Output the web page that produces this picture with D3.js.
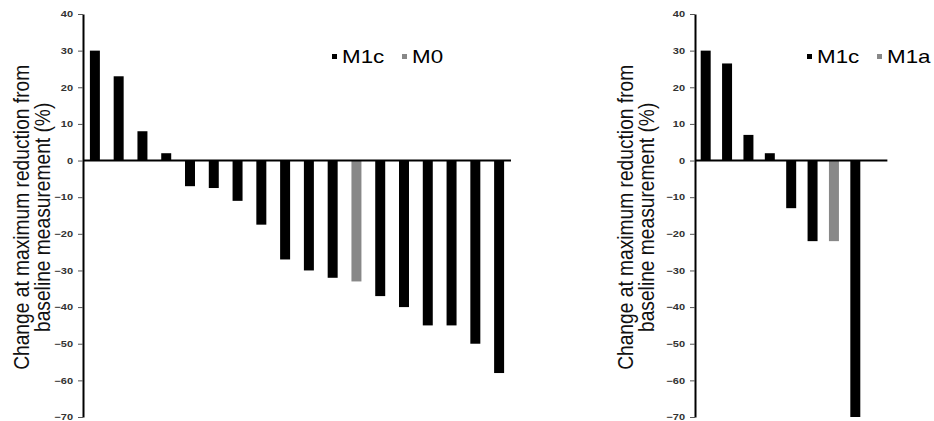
<!DOCTYPE html>
<html>
<head>
<meta charset="utf-8">
<script src="https://cdn.jsdelivr.net/npm/d3@7"></script>
<style>
  body { margin: 0; background: #fff; }
  svg { display: block; font-family: "Liberation Sans", Arial, sans-serif; }
</style>
</head>
<body>
<svg width="934" height="421"></svg>
<script>
// Left panel: patients sorted by change, stage per bar
const leftValues = [30, 23, 8, 2, -7, -7.5, -11, -17.5, -27, -30, -32, -33, -37, -40, -45, -45, -50, -58];
const leftStages = ["M1c", "M1c", "M1c", "M1c", "M1c", "M1c", "M1c", "M1c", "M1c", "M1c", "M1c", "M0", "M1c", "M1c", "M1c", "M1c", "M1c", "M1c"];
const leftLegend = ["M1c", "M0"];

// Right panel
const rightValues = [30, 26.5, 7, 2, -13, -22, -22, -70];
const rightStages = ["M1c", "M1c", "M1c", "M1c", "M1c", "M1c", "M1a", "M1c"];
const rightLegend = ["M1c", "M1a"];

const yTicks = [40, 30, 20, 10, 0, -10, -20, -30, -40, -50, -60, -70];
const yLabel = ["Change at maximum reduction from", "baseline measurement (%)"];

const color = d3.scaleOrdinal()
    .domain(["M1c", "M0", "M1a"])
    .range(["#000000", "#888888", "#888888"]);

const svg = d3.select("svg");

const y = d3.scaleLinear()
    .domain([-70, 40])
    .range([417, 14]);

function panel(opts) {
    const { values, stages, legend, x0, x1, labelX, legendX, zeroExtra } = opts;
    const g = svg.append("g");
    const idx = values.map((d, i) => i);

    const x = d3.scaleBand()
        .domain(idx)
        .range([x0, x1])
        .paddingInner(opts.pad)
        .paddingOuter(opts.pad / 2);

    // bars
    g.selectAll(".bar")
        .data(values)
        .enter().append("rect")
        .attr("class", "bar")
        .attr("x", (d, i) => x(i))
        .attr("width", x.bandwidth())
        .attr("y", d => y(Math.max(0, d)))
        .attr("height", d => Math.abs(y(d) - y(0)))
        .attr("fill", (d, i) => color(stages[i]));

    // y axis
    const ax = g.append("g")
        .attr("transform", `translate(${x0},0)`)
        .call(d3.axisLeft(y).tickValues(yTicks).tickSize(5).tickSizeOuter(0).tickPadding(4));
    ax.select(".domain").attr("stroke", "#000").attr("stroke-width", 2);
    ax.selectAll(".tick line").attr("stroke", "#555").attr("stroke-width", 1);
    ax.selectAll(".tick text")
        .attr("font-family", "'Liberation Sans', Arial, sans-serif")
        .attr("font-size", 8.8)
        .attr("font-weight", "bold")
        .attr("fill", "#333")
        .attr("x", -10 / 1.25)
        .attr("transform", "scale(1.25,1)");

    // zero line
    g.append("line")
        .attr("x1", x0)
        .attr("x2", x1 + zeroExtra * x.step())
        .attr("y1", y(0))
        .attr("y2", y(0))
        .attr("stroke", "#000")
        .attr("stroke-width", 2);

    // y label
    const lab = g.append("g")
        .attr("transform", `translate(${labelX},${y(-15.5)}) scale(1.14,1) rotate(-90)`);
    lab.selectAll("text")
        .data(yLabel)
        .enter().append("text")
        .attr("text-anchor", "middle")
        .attr("y", (d, i) => i * 21 / 1.14)
        .attr("font-size", 19.2)
        .attr("fill", "#111")
        .text(d => d);

    // legend
    const lg = g.append("g").attr("transform", `translate(${legendX},63)`);
    const item = lg.selectAll(".item")
        .data(legend)
        .enter().append("g")
        .attr("class", "item")
        .attr("transform", (d, i) => `translate(${i * opts.legendStep},0)`);
    item.append("rect")
        .attr("x", 0)
        .attr("y", -9)
        .attr("width", 5)
        .attr("height", 5)
        .attr("fill", d => color(d));
    item.append("text")
        .attr("x", 10 / 1.19)
        .attr("transform", "scale(1.19,1)")
        .attr("font-size", 18.8)
        .attr("fill", "#000")
        .text(d => d);
}

panel({
    values: leftValues, stages: leftStages, legend: leftLegend,
    x0: 83, x1: 511, pad: 0.58, zeroExtra: 0,
    labelX: 29, legendX: 332, legendStep: 70
});

panel({
    values: rightValues, stages: rightStages, legend: rightLegend,
    x0: 695, x1: 866, pad: 0.533, zeroExtra: 1,
    labelX: 633, legendX: 807, legendStep: 70
});
</script>
</body>
</html>
